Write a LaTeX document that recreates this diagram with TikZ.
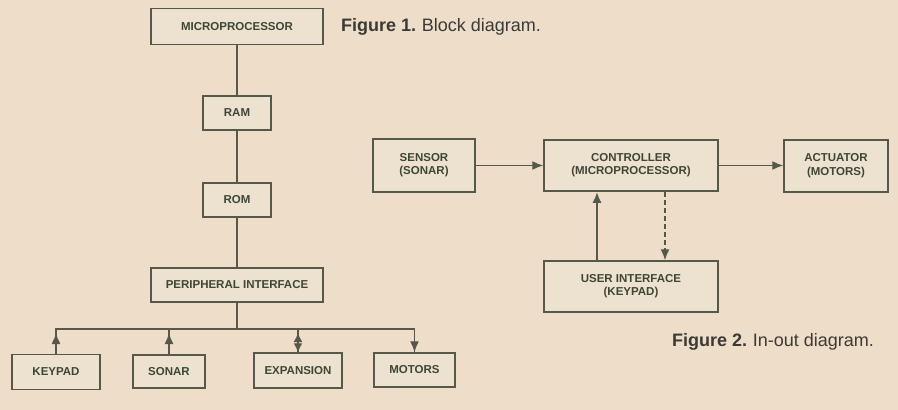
\documentclass[tikz,border=0pt]{standalone}
\usepackage{fontspec}
\setmainfont{Liberation Sans}
\usetikzlibrary{arrows.meta}
\definecolor{bg}{HTML}{EEDDC8}
\definecolor{boxfill}{HTML}{EDE2CF}
\definecolor{ink}{HTML}{56584A}
\definecolor{txt}{HTML}{3E4636}
\definecolor{cap}{HTML}{3A3A36}
\newcommand{\twoline}[2]{\raisebox{3.5pt}{\begin{tabular}{@{}c@{}}#1\\#2\end{tabular}}}
\begin{document}
\begin{tikzpicture}[x=1pt,y=-1pt,
  blk/.style={draw=ink,line width=1.5pt,fill=boxfill,inner sep=0pt,align=center,
    text=txt,font=\fontsize{11.5}{13.5}\selectfont\bfseries},
  wire/.style={draw=ink,line width=1.4pt},
  tip/.style={-{Latex[length=11pt,width=9pt]}},
  captxt/.style={text=cap,anchor=west,inner sep=0pt,font=\fontsize{18}{20}\selectfont}]
\fill[bg] (0,0) rectangle (898,410);
\useasboundingbox (0,0) rectangle (898,410);
% Figure 1
\node[blk,minimum width=172pt,minimum height=36pt] (micro) at (237,26.5) {MICROPROCESSOR};
\node[blk,minimum width=68pt,minimum height=34pt] (ram) at (237,113) {RAM};
\node[blk,minimum width=68pt,minimum height=34pt] (rom) at (237,200) {ROM};
\node[blk,minimum width=172pt,minimum height=34pt] (pi) at (237,285) {PERIPHERAL INTERFACE};
\node[blk,minimum width=88pt,minimum height=35pt] (keypad) at (56,372) {KEYPAD};
\node[blk,minimum width=72pt,minimum height=33pt] (sonar) at (169,371.5) {SONAR};
\node[blk,minimum width=88pt,minimum height=35pt] (expansion) at (298,370.5) {EXPANSION};
\node[blk,minimum width=81pt,minimum height=34pt] (motors) at (414.5,370) {MOTORS};
\coordinate (bus) at (237,329);
\node[captxt] (cap1) at (341,27) {\textbf{Figure 1.}\hspace{-1pt} Block diagram.};
\draw[wire] (micro) -- (ram);
\draw[wire] (ram) -- (rom);
\draw[wire] (rom) -- (pi);
\draw[wire] (pi) -- (bus);
\draw[wire] (keypad.north) -- (keypad.north |- bus) -- (motors.north |- bus) -- (motors.north);
\draw[wire] (sonar.north) -- (sonar.north |- bus);
\draw[wire] (expansion.north) -- (expansion.north |- bus);
\draw[wire,tip,shorten >=4pt] (keypad.north) -- (keypad.north |- bus);
\draw[wire,tip,shorten >=4pt] (sonar.north) -- (sonar.north |- bus);
\draw[wire,{Latex[length=9pt,width=9pt]}-{Latex[length=9pt,width=9pt]},shorten >=4pt] (expansion.north) -- (expansion.north |- bus);
\draw[wire,tip] (motors.north |- bus) -- (motors.north);
% Figure 2
\node[blk,minimum width=102pt,minimum height=53pt] (sensor) at (424,165.5) {\twoline{SENSOR}{(SONAR)}};
\node[blk,minimum width=174pt,minimum height=51pt] (ctrl) at (631,165.5) {\twoline{CONTROLLER}{(MICROPROCESSOR)}};
\node[blk,minimum width=104pt,minimum height=52pt] (act) at (836,166) {\twoline{ACTUATOR}{(MOTORS)}};
\node[blk,minimum width=174pt,minimum height=51pt] (ui) at (631,286.5) {\twoline{USER INTERFACE}{(KEYPAD)}};
\node[captxt] (cap2) at (672,342) {\textbf{Figure 2.}\hspace{-1pt} In-out diagram.};
\draw[wire,tip] (sensor.east) -- (ctrl.west);
\draw[wire,tip] (ctrl.east) -- (ctrl.east -| act.west);
\draw[wire,tip,line width=2.2pt] (ui.north -| 597,0) -- (ctrl.south -| 597,0);
\draw[wire,tip,dashed,dash pattern=on 5pt off 3pt] (ctrl.south -| 665,0) -- (ui.north -| 665,0);
\end{tikzpicture}
\end{document}
